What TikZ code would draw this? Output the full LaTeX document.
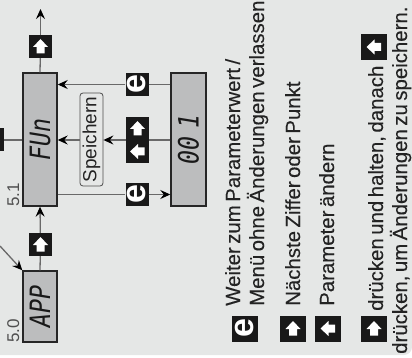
\documentclass[tikz,border=0pt]{standalone}
\usepackage{fontspec}
\usepackage{tikz}
\usetikzlibrary{arrows.meta}
\setmainfont{Liberation Sans}
\newfontfamily\segfont[FakeStretch=0.83]{DejaVu Sans Mono Oblique}
\newfontfamily\legendfont[FakeBold=0.12]{Liberation Sans}
\definecolor{panelgray}{RGB}{229, 231, 230}
\definecolor{displaygray}{RGB}{188, 189, 190}
\definecolor{linegray}{RGB}{105, 105, 105}
\definecolor{textdark}{RGB}{35, 35, 35}
\newcommand{\glyphup}[1]{\fill[white, shift={(path picture bounding box.center)}, scale=#1] (0,-7.5) -- (7.5,0.5) -- (4,0.5) -- (4,7) -- (-4,7) -- (-4,0.5) -- (-7.5,0.5) -- cycle;}
\newcommand{\glyphleft}[1]{\fill[white, shift={(path picture bounding box.center)}, scale=#1] (-7.5,0) -- (0.5,-7.5) -- (0.5,-4) -- (7,-4) -- (7,4) -- (0.5,4) -- (0.5,7.5) -- cycle;}
\tikzset{
    display/.style={draw=black!85, line width=1.4pt, fill=displaygray, inner sep=0pt},
    segtext/.style={font=\segfont\fontsize{28}{28}\selectfont, text=black!90, rotate=90, inner sep=0pt},
    keybox/.style={fill=black!90, inner sep=0pt, minimum width=23pt, minimum height=23pt},
    keyup/.style={keybox, path picture={\glyphup{1}}},
    keyleft/.style={keybox, path picture={\glyphleft{1}}},
    keye/.style={keybox, rotate=90, text=white, font=\fontsize{34}{34}\selectfont\bfseries},
    bigkey/.style={minimum width=26pt, minimum height=26pt},
    bigup/.style={keybox, bigkey, path picture={\glyphup{1.15}}},
    bigleft/.style={keybox, bigkey, path picture={\glyphleft{1.15}}},
    conn/.style={draw=linegray, line width=1.3pt},
    tipto/.style={-{Stealth[black, length=10pt, width=9pt, inset=3.5pt]}},
    legend/.style={rotate=90, anchor=base west, inner sep=0pt, text=textdark, font=\legendfont\fontsize{20.4}{20}\selectfont, execute at begin node={\spaceskip=0.17em\relax}},
    stepno/.style={rotate=90, anchor=base west, inner sep=0pt, text=textdark!80, font=\fontsize{17}{17}\selectfont}
}
\begin{document}
\begin{tikzpicture}[x=1pt, y=-1pt]
    \useasboundingbox (0,0) rectangle (412,358);
    % Panel
    \fill[panelgray] (0,0) -- (412,0) [rounded corners=8pt] -- (412,355) [sharp corners] -- (0,355) -- cycle;

    % Displays
    \node[display, minimum width=34pt, minimum height=71pt] (app) at (40,306.5) {};
    \node[display, minimum width=34pt, minimum height=133pt] (fun) at (40,139.5) {};
    \node[display, minimum width=35pt, minimum height=133pt] (val) at (188.5,139.5) {};
    \node[segtext] (apptext) at (40,306.5) {APP};
    \node[segtext] (funtext) at (40,139.5) {FUn};
    \node[segtext] (valtext) at (188.5,139.5) {00\hspace{-5pt} 1};

    % Step numbers
    \node[stepno] (stepa) at (19,343) {5.0};
    \node[stepno] (stepb) at (19,207) {5.1};

    % Keys on the connectors
    \node[keyup] (keyin) at (-7.5,140) {};
    \node[keyup] (keyapp) at (40.5,244.5) {};
    \node[keyup] (keyout) at (40.5,46.5) {};
    \node[keye] (keysave) at (137,84.5) {e};
    \node[keye] (keyenter) at (137,194.5) {e};
    \node[keyup] (keyedit) at (137.5,128.5) {};
    \node[keyleft] (keyback) at (137.5,151.5) {};
    \coordinate (editmid) at (137.5,140);
    \node[rotate=90, draw=black!70, line width=0.8pt, rounded corners=3pt, minimum width=93pt, minimum height=23pt, inner sep=0pt, text=textdark, font=\fontsize{19}{19}\selectfont] (store) at (91.5,139.5) {Speichern};

    % Connectors
    \coordinate (free) at (0,246);
    \coordinate (exit) at (40.5,9);
    \draw[conn, tipto] (free) -- (app.north west);
    \draw[conn] (app.north) -- (keyapp);
    \draw[conn, tipto] (keyapp) -- (fun.south);
    \draw[conn] (keyin) -- (keyin -| fun.west);
    \draw[conn] (fun.north) -- (keyout);
    \draw[conn, tipto] (keyout) -- (exit);
    \draw[conn] (keysave -| val.west) -- (keysave);
    \draw[conn, tipto] (keysave) -- (keysave -| fun.east);
    \draw[conn] (editmid -| val.west) -- (editmid -| keyedit.east);
    \draw[conn, tipto] (editmid -| keyedit.west) -- (editmid -| store.south);
    \draw[conn, tipto] (editmid -| store.north) -- (editmid -| fun.east);
    \draw[conn] (keyenter -| fun.east) -- (keyenter);
    \draw[conn, tipto] (keyenter) -- (keyenter -| val.west);

    % Legend
    \node[keye, bigkey] (legendsave) at (245,328.5) {e};
    \node[bigup] (legendnext) at (293,328.5) {};
    \node[bigleft] (legendedit) at (328,328.5) {};
    \node[bigup] (legendholda) at (374,328.5) {};
    \node[bigleft] (legendholdb) at (374,47) {};
    \node[legend] (texta) at (240,306) {Weiter zum Parameterwert /};
    \node[legend] (textb) at (264,306) {Menü ohne Änderungen verlassen};
    \node[legend] (textc) at (300,306) {Nächste Ziffer oder Punkt};
    \node[legend] (textd) at (334,306) {Parameter ändern};
    \node[legend] (texte) at (383,311) {drücken und halten, danach};
    \node[legend] (textf) at (407,354) {drücken, um Änderungen zu speichern.};
\end{tikzpicture}
\end{document}
